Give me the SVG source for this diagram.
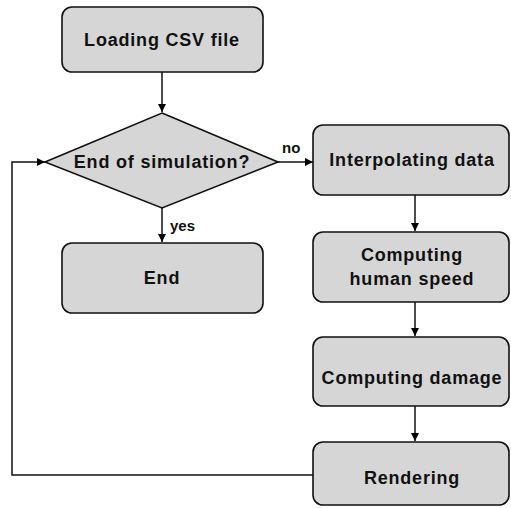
<svg xmlns="http://www.w3.org/2000/svg" width="511" height="508" viewBox="0 0 511 508">
<defs>
<marker id="arr" viewBox="0 0 10 10" refX="10" refY="5" markerWidth="8" markerHeight="8" markerUnits="userSpaceOnUse" orient="auto">
<path d="M0,0 L10,5 L0,10 z" fill="#000"/>
</marker>
</defs>
<style>
.box{fill:#d6d6d6;stroke:#111;stroke-width:1.6}
.t{font-family:"Liberation Sans",Arial,sans-serif;font-size:18px;font-weight:bold;letter-spacing:0.8px;fill:#111;text-anchor:middle}
.lbl{font-family:"Liberation Sans",Arial,sans-serif;font-size:15px;font-weight:bold;fill:#111}
.c{fill:none;stroke:#111;stroke-width:1.5}
</style>
<rect width="511" height="508" fill="#fff"/>
<g id="connectors">
<path class="c" d="M162,72 V112" marker-end="url(#arr)"/>
<path class="c" d="M278,162 H313" marker-end="url(#arr)"/>
<path class="c" d="M162,208 V242" marker-end="url(#arr)"/>
<path class="c" d="M415,195 V231" marker-end="url(#arr)"/>
<path class="c" d="M415,302 V336" marker-end="url(#arr)"/>
<path class="c" d="M415,406 V441" marker-end="url(#arr)"/>
<path class="c" d="M313,475 H12 V162 H45" marker-end="url(#arr)"/>
<text class="lbl" x="282" y="153">no</text>
<text class="lbl" x="170" y="231">yes</text>
</g>
<g id="load">
<rect class="box" x="62" y="7" width="201" height="65" rx="10"/>
<text class="t" x="162" y="46">Loading CSV file</text>
</g>
<g id="decision">
<polygon class="box" points="162,113 278,162 162,208 45,162"/>
<text class="t" x="162" y="168">End of simulation?</text>
</g>
<g id="end">
<rect class="box" x="62" y="243" width="201" height="70" rx="10"/>
<text class="t" x="162" y="284">End</text>
</g>
<g id="interp">
<rect class="box" x="313" y="125" width="196" height="70" rx="10"/>
<text class="t" x="412" y="166">Interpolating data</text>
</g>
<g id="speed">
<rect class="box" x="313" y="232" width="196" height="70" rx="10"/>
<text class="t" x="412" y="261">Computing</text>
<text class="t" x="412" y="285">human speed</text>
</g>
<g id="damage">
<rect class="box" x="313" y="337" width="196" height="69" rx="10"/>
<text class="t" x="412" y="384">Computing damage</text>
</g>
<g id="render">
<rect class="box" x="313" y="442" width="196" height="63" rx="10"/>
<text class="t" x="412" y="484">Rendering</text>
</g>
</svg>
